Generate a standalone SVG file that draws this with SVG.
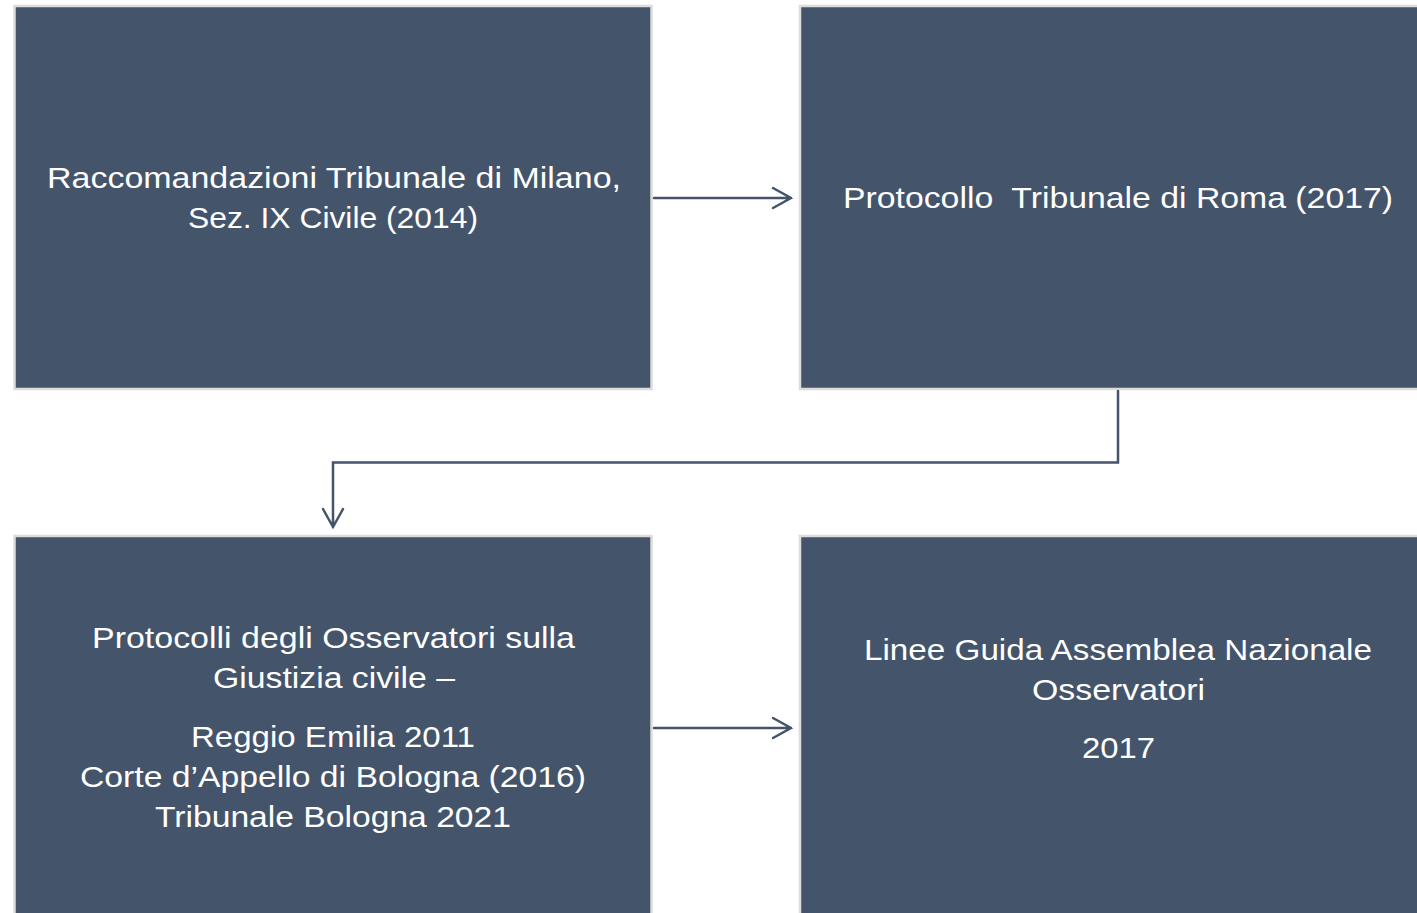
<svg xmlns="http://www.w3.org/2000/svg" width="1417" height="913" viewBox="0 0 1417 913">
<style>
.box{fill:#44546A;stroke:#DCDCDC;stroke-width:2.5}
.t{font-family:"Liberation Sans",Arial,sans-serif;font-size:30px;fill:#FFFFFF;text-anchor:middle}
.c{fill:none;stroke:#44546A;stroke-width:2.5;stroke-linecap:round;stroke-linejoin:miter}
</style>
<rect width="1417" height="913" fill="#FFFFFF"/>
<g id="node-milano">
<rect class="box" x="14.5" y="6" width="637" height="383"/>
<text class="t" x="334" y="188" textLength="574" lengthAdjust="spacingAndGlyphs">Raccomandazioni Tribunale di Milano,</text>
<text class="t" x="333" y="228" textLength="290" lengthAdjust="spacingAndGlyphs">Sez. IX Civile (2014)</text>
</g>
<g id="node-roma">
<rect class="box" x="800" y="6" width="637" height="383"/>
<text class="t" x="1118" y="208" textLength="550" lengthAdjust="spacingAndGlyphs" xml:space="preserve">Protocollo  Tribunale di Roma (2017)</text>
</g>
<g id="node-osservatori">
<rect class="box" x="14.5" y="536" width="637" height="390"/>
<text class="t" x="333.5" y="648" textLength="483" lengthAdjust="spacingAndGlyphs">Protocolli degli Osservatori sulla</text>
<text class="t" x="334" y="688" textLength="242" lengthAdjust="spacingAndGlyphs">Giustizia civile –</text>
<text class="t" x="333" y="747" textLength="284" lengthAdjust="spacingAndGlyphs">Reggio Emilia 2011</text>
<text class="t" x="333" y="787" textLength="506" lengthAdjust="spacingAndGlyphs">Corte d’Appello di Bologna (2016)</text>
<text class="t" x="333" y="827" textLength="356" lengthAdjust="spacingAndGlyphs">Tribunale Bologna 2021</text>
</g>
<g id="node-linee">
<rect class="box" x="800" y="536" width="637" height="390"/>
<text class="t" x="1118" y="660" textLength="508" lengthAdjust="spacingAndGlyphs">Linee Guida Assemblea Nazionale</text>
<text class="t" x="1118.5" y="700" textLength="173" lengthAdjust="spacingAndGlyphs">Osservatori</text>
<text class="t" x="1118.5" y="758" textLength="73" lengthAdjust="spacingAndGlyphs">2017</text>
</g>
<g id="connectors">
<path class="c" d="M654,198 H791 M773,188 L791,198 L773,208"/>
<path class="c" d="M654,728 H791 M773,718 L791,728 L773,738"/>
<path class="c" d="M1118,391 V462.5 H333 V527 M323,509 L333,527 L343,509"/>
</g>
</svg>
